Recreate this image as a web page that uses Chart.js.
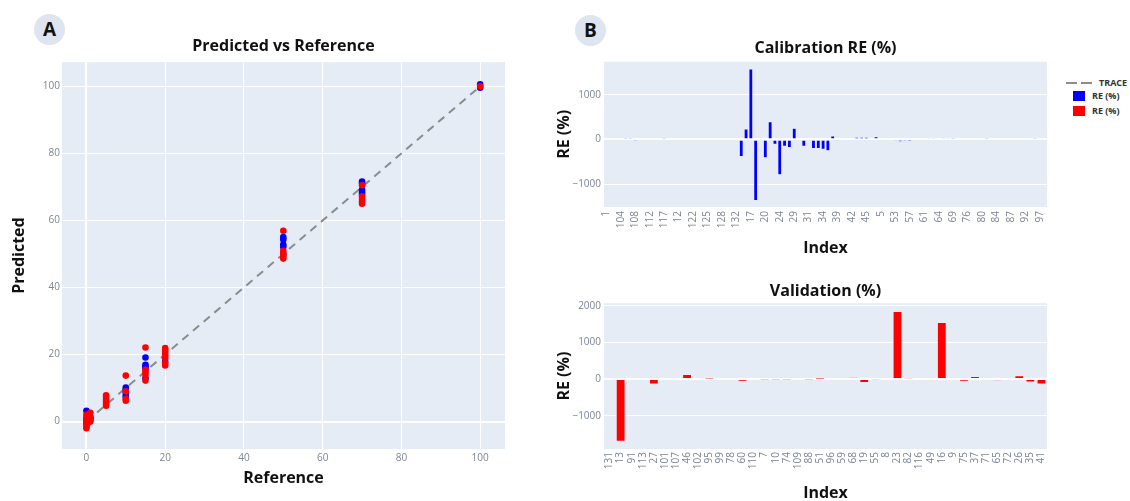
<!DOCTYPE html>
<html>
<head>
<meta charset="utf-8">
<title>Predicted vs Reference / RE (%)</title>
<script src="https://cdn.jsdelivr.net/npm/chart.js@4.4.1/dist/chart.umd.min.js"></script>
<style>
  html, body { margin: 0; padding: 0; background: #fff; overflow: hidden; }
  body { position: relative; width: 1130px; height: 501px; font-family: 'Open Sans', sans-serif; }
  canvas { position: absolute; }
  .badge { position: absolute; width: 31px; height: 31px; border-radius: 50%;
           background: #dfe5ee; color: #111; font-weight: 700; font-size: 19px;
           line-height: 31px; text-align: center; }
  .leg { position: absolute; font-size: 9px; font-weight: 700; color: #333; line-height: 12px; white-space: nowrap; }
  .sq { position: absolute; width: 12px; height: 10px; }
</style>
</head>
<body>
<div class="badge" style="left:34px;top:14px">A</div>
<div class="badge" style="left:575px;top:15px">B</div>

<canvas id="scatterChart" width="540" height="501" style="left:0;top:0"></canvas>
<canvas id="calChart" width="522" height="262" style="left:540px;top:0"></canvas>
<canvas id="valChart" width="522" height="245" style="left:540px;top:262px"></canvas>

<!-- shared legend -->
<svg style="position:absolute;left:1066px;top:79px" width="30" height="8">
  <line x1="0" y1="4" x2="30" y2="4" stroke="#8c8c8c" stroke-width="2" stroke-dasharray="11,4"></line>
</svg>
<div class="leg" style="left:1099px;top:77px">TRACE</div>
<div class="sq" style="left:1073px;top:91px;background:#0000ff"></div>
<div class="leg" style="left:1092px;top:90px">RE (%)</div>
<div class="sq" style="left:1073px;top:106px;background:#ff0000"></div>
<div class="leg" style="left:1092px;top:105px">RE (%)</div>

<script>
// ---- panel A: predicted vs reference ----
const calRef  = [0, 0, 0, 0.5, 1, 1, 10, 10, 10, 10, 10, 15, 15, 15, 15, 15, 20,
                 50, 50, 50, 50, 50, 70, 70, 70, 70, 70, 100, 100];
const calPred = [3.2, 0.6, -0.3, 0.2, 1.3, 0.5, 10.1, 9.5, 8.7, 7.9, 7.3, 19.1, 16.9, 16.4, 15.9, 12.9, 17.9,
                 55.0, 54.3, 52.8, 52.1, 49.8, 71.6, 71.1, 69.1, 68.4, 67.8, 100.6, 99.6];
const valRef  = [0, 0, 0, 0, 0, 0, 0, 0.5, 0.5, 0.5, 1, 1, 1, 5, 5, 5, 5, 5, 5, 10, 10, 10, 10,
                 15, 15, 15, 15, 15, 20, 20, 20, 20, 20, 20, 20, 20, 50, 50, 50, 50, 50,
                 70, 70, 70, 70, 70, 100];
const valPred = [2.0, 1.2, 0.4, -0.5, -1.0, -1.6, -2.0, 2.0, 0.8, -0.4, 2.6, 1.0, 0.0,
                 7.8, 7.2, 6.5, 5.9, 5.3, 4.7, 13.7, 9.0, 6.8, 6.2,
                 22.1, 15.4, 14.7, 13.9, 12.2, 21.9, 21.4, 20.9, 20.2, 19.6, 18.9, 17.4, 16.7,
                 56.9, 50.9, 50.0, 49.3, 48.6, 70.5, 67.2, 66.4, 65.7, 65.0, 100.0];
const traceX = [0, 100];
const traceY = [0, 100];
const refTicks  = [0, 20, 40, 60, 80, 100];
const predTicks = [0, 20, 40, 60, 80, 100];

// ---- panel B: relative errors per sample index ----
const calIndex = ['1','100','103','104','105','106','108','11','111','112','114','115','117','118','119',
  '12','120','121','122','123','124','125','126','127','128','129','130','132','14','15','17','18','2',
  '20','21','22','24','25','28','29','3','30','31','32','33','34','36','38','39','4','40','42','43','44',
  '45','47','48','5','50','52','53','54','56','57','58','6','61','62','63','64','66','67','69','70','73',
  '76','77','79','80','81','83','84','85','86','87','89','90','92','93','94','97','98'];
const calRE = [0, 0, 0, 0, 5, 10, -10, 0, 0, 0,
               0, 0, 5, 0, 0, 0, 0, 0, 0, 0,
               0, 0, 0, 0, 0, 0, 0, 0, -380, 235,
               1575, -1365, 0, -410, 395, -105, -790, -150, -180, 250,
               0, -150, 0, -200, -200, -220, -250, 80, -30, 0,
               -20, 20, 50, 50, 50, -20, 60, 0, 0, 0,
               -15, -50, -10, -5, 0, 0, 0, 15, 15, 0,
               15, 15, 10, 0, 0, 0, 0, 0, 0, 10,
               -20, 0, 0, 0, 0, 0, 0, 0, 0, 10,
               0, 0];
const calTickStep = 3;   // every third index is labelled
const valIndex = ['131','13','91','113','27','101','107','46','102','95','99','78','60','110','7','10',
  '74','109','88','51','96','59','68','19','55','8','23','82','116','49','16','9','75','37','71','65',
  '72','26','35','41'];
const valRE = [0, -1700, 0, 0, -130, 0, -20, 125, 0, 10,
               0, 0, -55, 0, -5, -5, -5, 0, -5, 5,
               0, 0, 45, -90, -10, 0, 1845, 20, 0, -20,
               1545, 0, -55, 70, 35, -35, 0, 90, -80, -135];
const calTicks = [-1000, 0, 1000];
const valTicks = [-1000, 0, 1000, 2000];

Chart.defaults.font.family = "'Open Sans', sans-serif";
Chart.defaults.font.size = 10;
Chart.defaults.color = '#7d8593';
Chart.defaults.animation = false;

const PLOT_BG = '#e5ecf6';
const INK = '#111';

// plotly-like grey-blue plot area
const plotBg = {
  id: 'plotBg',
  beforeDraw(chart) {
    const { ctx, chartArea: a } = chart;
    ctx.save();
    ctx.fillStyle = PLOT_BG;
    ctx.fillRect(a.left, a.top, a.right - a.left, a.bottom - a.top);
    ctx.restore();
  }
};

const fmt = v => (v < 0 ? '\u2212' + Math.abs(v) : String(v));
const whiteGrid = {
  color: '#ffffff',
  lineWidth: c => (c.tick && c.tick.value === 0 ? 2 : 1),
  drawTicks: false
};
const axisTitle = (text, padding) => ({
  display: true, text, color: INK, padding,
  font: { size: 16, weight: 'bold' }
});
const chartTitle = (text, padding) => ({
  display: true, text, color: INK, padding, fullSize: false,
  font: { size: 16, weight: 'bold' }
});

function valueAxis(ticks, min, max, width) {
  return {
    min, max,
    afterBuildTicks: s => { s.ticks = ticks.map(v => ({ value: v })); },
    afterFit: s => { s.width = width; },
    ticks: { padding: 3, callback: fmt },
    grid: whiteGrid,
    border: { display: false },
    title: axisTitle('RE (%)', { top: 9, bottom: 0 })
  };
}

function indexAxis(step, height, pad) {
  return {
    afterFit: s => { s.height = height; },
    ticks: {
      autoSkip: false, minRotation: 90, maxRotation: 90, padding: pad,
      callback(v, i) { return i % step === 0 ? this.getLabelForValue(v) : ''; }
    },
    grid: { display: false, drawTicks: false },
    border: { display: false },
    title: axisTitle('Index', { top: 0, bottom: 2 })
  };
}

new Chart(document.getElementById('scatterChart'), {
  type: 'scatter',
  data: {
    datasets: [
      {
        label: 'TRACE',
        data: traceX.map((x, i) => ({ x, y: traceY[i] })),
        showLine: true, borderColor: '#8c8c8c', borderWidth: 2, borderDash: [8, 6],
        pointRadius: 0, order: 3
      },
      {
        label: 'Calibration',
        data: calRef.map((x, i) => ({ x, y: calPred[i] })),
        backgroundColor: '#0000ff', pointRadius: 3.3, borderWidth: 0, order: 2
      },
      {
        label: 'Validation',
        data: valRef.map((x, i) => ({ x, y: valPred[i] })),
        backgroundColor: '#ff0000', pointRadius: 3.3, borderWidth: 0, order: 1
      }
    ]
  },
  options: {
    responsive: false,
    devicePixelRatio: 1,
    events: [],
    layout: { padding: { left: 6, right: 35, top: 0, bottom: 10 } },
    scales: {
      x: {
        min: -6.2, max: 106.3,
        afterBuildTicks: s => { s.ticks = refTicks.map(v => ({ value: v })); },
        afterFit: s => { s.height = 42; },
        ticks: { padding: 3, callback: fmt },
        grid: whiteGrid,
        border: { display: false },
        title: axisTitle('Reference', { top: 0, bottom: 3 })
      },
      y: {
        min: -8.2, max: 107.2,
        afterBuildTicks: s => { s.ticks = predTicks.map(v => ({ value: v })); },
        afterFit: s => { s.width = 56; },
        ticks: { padding: 2, callback: fmt },
        grid: whiteGrid,
        border: { display: false },
        title: axisTitle('Predicted', { top: 4, bottom: 0 })
      }
    },
    plugins: {
      title: chartTitle('Predicted vs Reference', { top: 37, bottom: 6 }),
      legend: { display: false },
      tooltip: { enabled: false }
    }
  },
  plugins: [plotBg]
});

new Chart(document.getElementById('calChart'), {
  type: 'bar',
  data: {
    labels: calIndex,
    datasets: [{
      label: 'RE (%)', data: calRE,
      backgroundColor: '#0000ff', borderColor: PLOT_BG, borderWidth: 0.5,
      barPercentage: 0.8, categoryPercentage: 1
    }]
  },
  options: {
    responsive: false,
    devicePixelRatio: 1,
    events: [],
    layout: { padding: { left: 6, right: 15, top: 0, bottom: 2 } },
    scales: {
      x: indexAxis(calTickStep, 53, 4),
      y: valueAxis(calTicks, -1509, 1738, 58)
    },
    plugins: {
      title: chartTitle('Calibration RE (%)', { top: 39, bottom: 3.5 }),
      legend: { display: false },
      tooltip: { enabled: false }
    }
  },
  plugins: [plotBg]
});

new Chart(document.getElementById('valChart'), {
  type: 'bar',
  data: {
    labels: valIndex,
    datasets: [{
      label: 'RE (%)', data: valRE,
      backgroundColor: '#ff0000', borderColor: PLOT_BG, borderWidth: 0.5,
      barPercentage: 0.8, categoryPercentage: 1
    }]
  },
  options: {
    responsive: false,
    devicePixelRatio: 1,
    events: [],
    layout: { padding: { left: 6, right: 15, top: 0, bottom: 2 } },
    scales: {
      x: indexAxis(1, 56, 3),
      y: valueAxis(valTicks, -1909, 2074, 58)
    },
    plugins: {
      title: chartTitle('Validation (%)', { top: 20, bottom: 2 }),
      legend: { display: false },
      tooltip: { enabled: false }
    }
  },
  plugins: [plotBg]
});
</script>
</body>
</html>
